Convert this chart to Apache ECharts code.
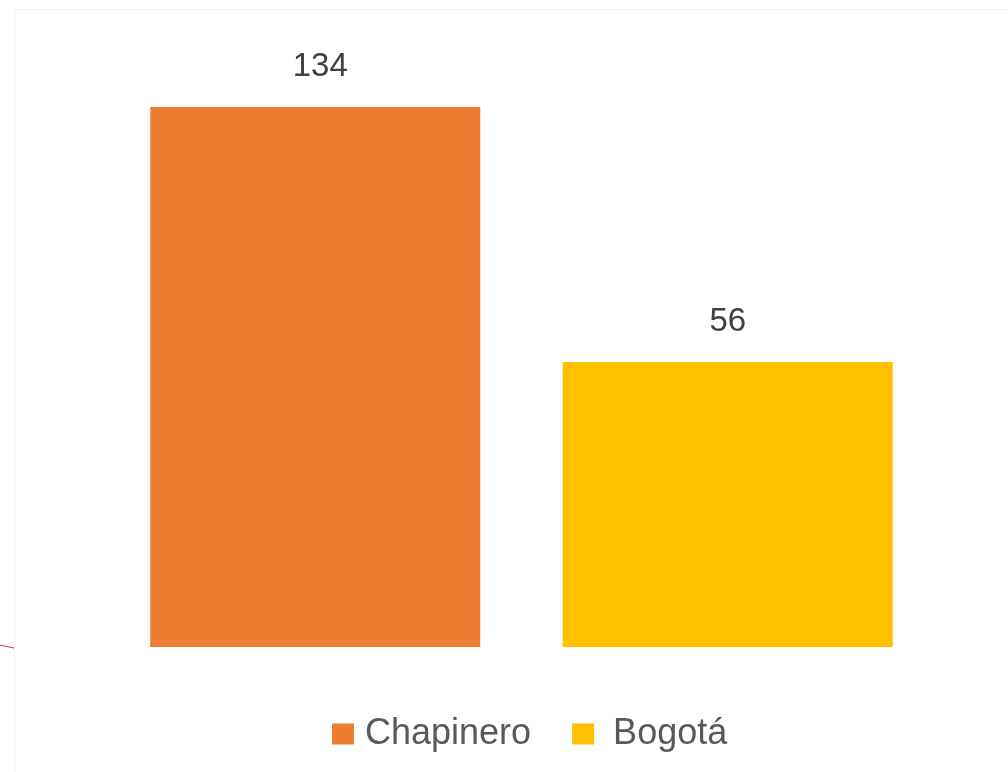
<!DOCTYPE html>
<html>
<head>
<meta charset="utf-8">
<script src="https://cdn.jsdelivr.net/npm/echarts@6/dist/echarts.min.js"></script>
<style>html,body{margin:0;padding:0;background:#fff}#c{width:1008px;height:772px}</style>
</head>
<body>
<div id="c"></div>
<script>
const categories = ['Chapinero', 'Bogotá'];
const values = [134, 56];
const colors = ['#ED7D31', '#FFC000'];
const labelOffsets = [[5, 0], [0, 0]];

const chart = echarts.init(document.getElementById('c'), null, {renderer: 'canvas'});
const series = categories.map((name, i) => ({
  name: name,
  type: 'bar',
  barWidth: 330,
  barGap: '-100%',
  data: categories.map((c, j) => (j === i ? values[i] : '-')),
  itemStyle: {color: colors[i]},
  label: {
    show: true, position: 'top', distance: 24, offset: labelOffsets[i],
    fontFamily: 'Liberation Sans', fontSize: 33, color: '#404040'
  }
}));
chart.setOption({
  animation: false,
  backgroundColor: '#fff',
  grid: {left: 109, right: 74, top: 107, bottom: 125},
  xAxis: {type: 'category', data: categories, show: false},
  yAxis: {type: 'value', min: -31.2, max: 134, startValue: -31.2, show: false},
  legend: {
    left: 327, top: 711,
    icon: 'rect', itemWidth: 22, itemHeight: 21, itemGap: 41,
    textStyle: {fontFamily: 'Liberation Sans', fontSize: 36, color: '#595959', padding: [0, 0, 0, 6]},
    data: [
      {name: categories[0]},
      {name: categories[1], textStyle: {padding: [0, 0, 0, 14]}}
    ]
  },
  graphic: [
    {type: 'rect', shape: {x: 14.5, y: 9.5, width: 1100, height: 800}, style: {fill: 'none', stroke: '#f1f1f1', lineWidth: 1}, silent: true},
    {type: 'line', shape: {x1: 0, y1: 645, x2: 14, y2: 648}, style: {stroke: '#d9364f', lineWidth: 1}, silent: true}
  ],
  series: series
});
</script>
</body>
</html>
